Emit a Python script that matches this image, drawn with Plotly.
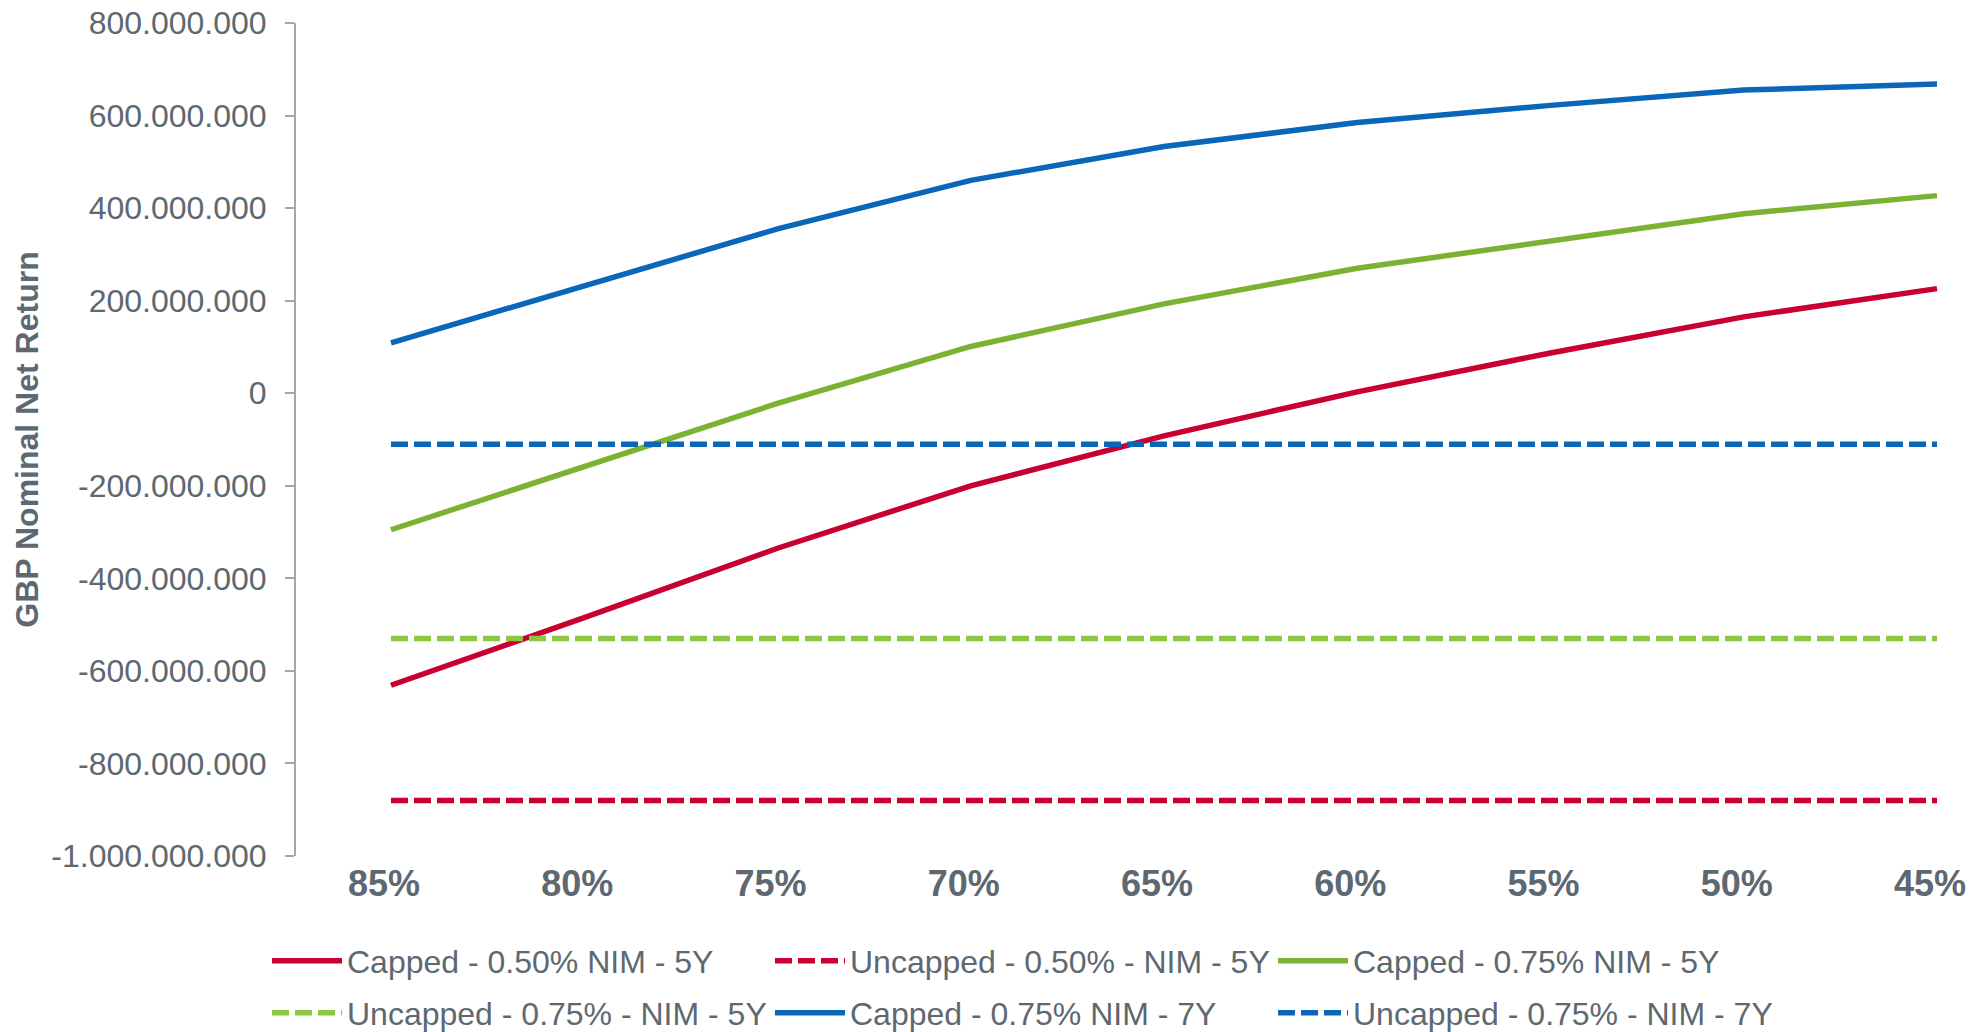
import plotly.graph_objects as go

# Loan-to-value buckets on the horizontal axis
ltv_labels = ["85%", "80%", "75%", "70%", "65%", "60%", "55%", "50%", "45%"]

# GBP nominal net return per scenario
capped_050_5y = [-631e6, -485e6, -335e6, -200e6, -92e6, 3e6, 87e6, 165e6, 226e6]
uncapped_050_5y = [-880e6] * 9
capped_075_5y = [-295e6, -160e6, -22e6, 101e6, 193e6, 270e6, 329e6, 388e6, 427e6]
uncapped_075_5y = [-530e6] * 9
capped_075_7y = [109e6, 231e6, 355e6, 460e6, 533e6, 585e6, 622e6, 655e6, 668e6]
uncapped_075_7y = [-110e6] * 9

y_ticks = [800e6, 600e6, 400e6, 200e6, 0, -200e6, -400e6, -600e6, -800e6, -1000e6]
y_tick_text = [f"{v:,.0f}".replace(",", ".") for v in y_ticks]

RED = "#C9002F"
GREEN = "#7CB232"
LIGHT_GREEN = "#8DC63F"
BLUE = "#0A66B8"
TEXT = "#5D6870"
FONT = "Liberation Sans, Arial, sans-serif"
DASH = "17px,6px"

# (name, values, colour, dash, legend row)
series = [
    ("Capped - 0.50% NIM - 5Y", capped_050_5y, RED, "solid", "legend"),
    ("Uncapped - 0.50% - NIM - 5Y", uncapped_050_5y, RED, DASH, "legend"),
    ("Capped - 0.75% NIM - 5Y", capped_075_5y, GREEN, "solid", "legend"),
    ("Uncapped - 0.75% - NIM - 5Y", uncapped_075_5y, LIGHT_GREEN, DASH, "legend2"),
    ("Capped - 0.75% NIM - 7Y", capped_075_7y, BLUE, "solid", "legend2"),
    ("Uncapped - 0.75% - NIM - 7Y", uncapped_075_7y, BLUE, DASH, "legend2"),
]

fig = go.Figure()
for name, values, color, dash, legend in series:
    fig.add_trace(go.Scatter(
        x=ltv_labels, y=values, name=name, mode="lines",
        line=dict(color=color, width=5.5, dash=dash),
        legend=legend, hoverinfo="skip",
    ))

legend_style = dict(
    orientation="h", xref="container", yref="container",
    x=267 / 1977, xanchor="left", yanchor="middle",
    entrywidth=418, entrywidthmode="pixels", itemwidth=70,
    font=dict(size=32, color=TEXT, family=FONT), bgcolor="rgba(0,0,0,0)",
)

fig.update_layout(
    width=1977, height=1032,
    margin=dict(l=296, r=0, t=23, b=176, autoexpand=False),
    paper_bgcolor="white", plot_bgcolor="white",
    font=dict(family=FONT, color=TEXT, size=31),
    showlegend=True,
    legend=dict(legend_style, y=1 - 961 / 1032),
    legend2=dict(legend_style, y=1 - 1013 / 1032),
)

fig.update_xaxes(
    type="category", range=[-0.4916, 8.207],
    showline=False, showgrid=False, zeroline=False, ticks="",
    ticklabelshift=-7, ticklabelstandoff=3,
    tickfont=dict(size=36, color=TEXT, family=FONT, weight="bold"),
)
fig.update_yaxes(
    range=[-1000e6, 800e6], tickvals=y_ticks, ticktext=y_tick_text,
    showline=True, linecolor="#A6A6A6", linewidth=2,
    ticks="outside", ticklen=9, tickcolor="#A6A6A6", tickwidth=2,
    showgrid=False, zeroline=False, ticklabelstandoff=12,
    tickfont=dict(size=32, color=TEXT),
    title=dict(text="GBP Nominal Net Return", standoff=3,
               font=dict(size=32, color=TEXT, weight="bold")),
)

fig.write_html("out.html")
